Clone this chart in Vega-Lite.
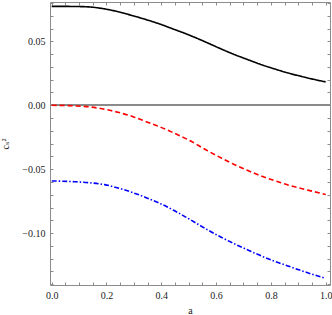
{
  "$schema": "https://vega.github.io/schema/vega-lite/v6.json",
  "width": 280,
  "height": 283,
  "autosize": "none",
  "padding": {"left": 50, "top": 2, "right": 2, "bottom": 30},
  "background": "white",
  "config": {
    "view": {"stroke": "#8c8c8c", "strokeWidth": 1},
    "axis": {"labelFont": "Liberation Serif, Times New Roman, DejaVu Serif, serif", "titleFont": "Liberation Serif, Times New Roman, DejaVu Serif, serif", "labelFontSize": 10, "labelColor": "#222", "titleColor": "#222", "tickColor": "#8c8c8c", "domain": false, "grid": false}
  },
  "data": {"values": [
    {"a": 0.0, "v": 0.0774, "s": "A"},
    {"a": 0.084, "v": 0.0773, "s": "A"},
    {"a": 0.139, "v": 0.0769, "s": "A"},
    {"a": 0.193, "v": 0.0754, "s": "A"},
    {"a": 0.242, "v": 0.0732, "s": "A"},
    {"a": 0.297, "v": 0.0700, "s": "A"},
    {"a": 0.345, "v": 0.0670, "s": "A"},
    {"a": 0.394, "v": 0.0636, "s": "A"},
    {"a": 0.443, "v": 0.0597, "s": "A"},
    {"a": 0.5, "v": 0.0551, "s": "A"},
    {"a": 0.570, "v": 0.0487, "s": "A"},
    {"a": 0.619, "v": 0.0440, "s": "A"},
    {"a": 0.668, "v": 0.0396, "s": "A"},
    {"a": 0.716, "v": 0.0357, "s": "A"},
    {"a": 0.765, "v": 0.0318, "s": "A"},
    {"a": 0.814, "v": 0.0284, "s": "A"},
    {"a": 0.862, "v": 0.0253, "s": "A"},
    {"a": 0.911, "v": 0.0226, "s": "A"},
    {"a": 0.960, "v": 0.0201, "s": "A"},
    {"a": 1.0, "v": 0.0183, "s": "A"},
    {"a": 0.0, "v": 0.0, "s": "B"},
    {"a": 0.084, "v": -0.0005, "s": "B"},
    {"a": 0.139, "v": -0.0013, "s": "B"},
    {"a": 0.193, "v": -0.0031, "s": "B"},
    {"a": 0.242, "v": -0.0055, "s": "B"},
    {"a": 0.297, "v": -0.0089, "s": "B"},
    {"a": 0.345, "v": -0.0128, "s": "B"},
    {"a": 0.394, "v": -0.0168, "s": "B"},
    {"a": 0.443, "v": -0.0214, "s": "B"},
    {"a": 0.5, "v": -0.0272, "s": "B"},
    {"a": 0.570, "v": -0.0357, "s": "B"},
    {"a": 0.619, "v": -0.0413, "s": "B"},
    {"a": 0.668, "v": -0.0465, "s": "B"},
    {"a": 0.716, "v": -0.0511, "s": "B"},
    {"a": 0.765, "v": -0.0553, "s": "B"},
    {"a": 0.814, "v": -0.0590, "s": "B"},
    {"a": 0.862, "v": -0.0623, "s": "B"},
    {"a": 0.911, "v": -0.0651, "s": "B"},
    {"a": 0.960, "v": -0.0677, "s": "B"},
    {"a": 1.0, "v": -0.0699, "s": "B"},
    {"a": 0.0, "v": -0.0592, "s": "C"},
    {"a": 0.084, "v": -0.0598, "s": "C"},
    {"a": 0.139, "v": -0.0606, "s": "C"},
    {"a": 0.193, "v": -0.0621, "s": "C"},
    {"a": 0.242, "v": -0.0647, "s": "C"},
    {"a": 0.297, "v": -0.0684, "s": "C"},
    {"a": 0.345, "v": -0.0723, "s": "C"},
    {"a": 0.394, "v": -0.0767, "s": "C"},
    {"a": 0.443, "v": -0.0819, "s": "C"},
    {"a": 0.5, "v": -0.0888, "s": "C"},
    {"a": 0.570, "v": -0.0976, "s": "C"},
    {"a": 0.619, "v": -0.1033, "s": "C"},
    {"a": 0.668, "v": -0.1085, "s": "C"},
    {"a": 0.716, "v": -0.1132, "s": "C"},
    {"a": 0.765, "v": -0.1179, "s": "C"},
    {"a": 0.814, "v": -0.1221, "s": "C"},
    {"a": 0.862, "v": -0.1257, "s": "C"},
    {"a": 0.911, "v": -0.1294, "s": "C"},
    {"a": 0.960, "v": -0.1328, "s": "C"},
    {"a": 1.0, "v": -0.1354, "s": "C"}
  ]},
  "resolve": {"axis": {"x": "independent", "y": "independent"}},
  "layer": [
    {
      "mark": {"type": "rule", "color": "#8c8c8c", "strokeWidth": 1},
      "encoding": {
        "y": {"datum": 0, "type": "quantitative", "scale": {"domain": [-0.1406, 0.0808], "nice": false, "zero": false},
          "axis": {"orient": "right", "values": [-0.14,-0.13,-0.12,-0.11,-0.1,-0.09,-0.08,-0.07,-0.06,-0.05,-0.04,-0.03,-0.02,-0.01,0,0.01,0.02,0.03,0.04,0.05,0.06,0.07,0.08], "labels": false, "title": null, "tickSize": -3,
            "encode": {"ticks": {"update": {"x2": {"signal": "abs(datum.value*20 - round(datum.value*20)) < 0.001 ? -5 : -2.5"}}}}}}
      }
    },
    {
      "mark": {"type": "line", "strokeWidth": 1.6, "interpolate": "monotone"},
      "encoding": {
        "x": {"field": "a", "type": "quantitative", "scale": {"domain": [-0.0062, 1.0157], "nice": false, "zero": false},
          "axis": {"orient": "bottom", "values": [0,0.05,0.1,0.15,0.2,0.25,0.3,0.35,0.4,0.45,0.5,0.55,0.6,0.65,0.7,0.75,0.8,0.85,0.9,0.95,1.0], "labelExpr": "abs(datum.value*5 - round(datum.value*5)) < 0.001 ? format(datum.value, '.1f') : ''", "tickSize": -3, "labelPadding": 8, "title": "a", "titleFontWeight": "normal", "titleFontSize": 10, "titlePadding": 5.5, "labelFlush": false, "labelOverlap": false,
            "encode": {"ticks": {"update": {"y2": {"signal": "abs(datum.value*5 - round(datum.value*5)) < 0.001 ? -5 : -2.5"}}}}}},
        "y": {"field": "v", "type": "quantitative", "scale": {"domain": [-0.1406, 0.0808], "nice": false, "zero": false},
          "axis": {"orient": "left", "values": [-0.14,-0.13,-0.12,-0.11,-0.1,-0.09,-0.08,-0.07,-0.06,-0.05,-0.04,-0.03,-0.02,-0.01,0,0.01,0.02,0.03,0.04,0.05,0.06,0.07,0.08], "labelExpr": "abs(datum.value*20 - round(datum.value*20)) < 0.001 ? format(datum.value, '.2f') : ''", "tickSize": -3, "labelPadding": 8, "title": "cₛ²", "titleFontWeight": "normal", "titleFontSize": 10, "titlePadding": 11, "labelFlush": false, "labelOverlap": false,
            "encode": {"ticks": {"update": {"x2": {"signal": "abs(datum.value*20 - round(datum.value*20)) < 0.001 ? 5 : 2.5"}}}}}},
        "color": {"field": "s", "type": "nominal", "scale": {"domain": ["A","B","C"], "range": ["#000000", "#ff0000", "#0000ff"]}, "legend": null},
        "strokeDash": {"field": "s", "type": "nominal", "scale": {"domain": ["A","B","C"], "range": [[1,0],[5,3],[5,2,1.5,2]]}, "legend": null}
      }
    },
    {
      "mark": {"type": "line", "opacity": 0},
      "encoding": {
        "x": {"field": "a", "type": "quantitative",
          "axis": {"orient": "top", "values": [0,0.05,0.1,0.15,0.2,0.25,0.3,0.35,0.4,0.45,0.5,0.55,0.6,0.65,0.7,0.75,0.8,0.85,0.9,0.95,1.0], "labels": false, "title": null, "tickSize": -3,
            "encode": {"ticks": {"update": {"y2": {"signal": "abs(datum.value*5 - round(datum.value*5)) < 0.001 ? 5 : 2.5"}}}}}},
        "y": {"field": "v", "type": "quantitative", "axis": null}
      }
    }
  ]
}
